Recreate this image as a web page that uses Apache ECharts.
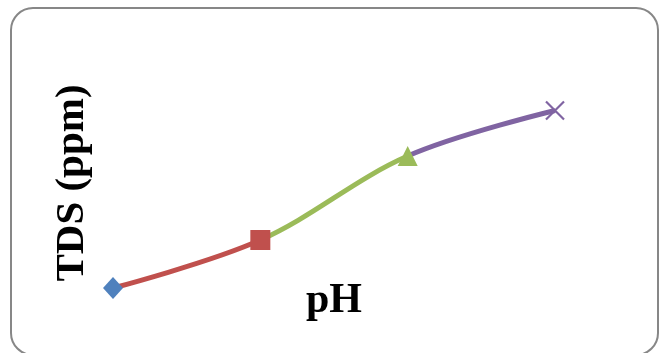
<!DOCTYPE html>
<html>
<head>
<meta charset="utf-8">
<script src="https://cdn.jsdelivr.net/npm/echarts@6/dist/echarts.min.js"></script>
<style>
  html, body { margin: 0; padding: 0; background: #ffffff; }
  #chart { width: 661px; height: 353px; }
</style>
</head>
<body>
<div id="chart"></div>
<script>
// Sample positions along the pH axis and the measured TDS (ppm)
const samplePos = [1, 2, 3, 4];
const tdsValues = [200, 240, 310, 348];
// One marker shape and colour per sample
const markerShapes = ['diamond', 'rect', 'triangle', 'path://M0,0L10,10M10,0L0,10'];
const markerColors = ['#4F81BD', '#C0504D', '#9BBB59', '#8064A2'];
// Axis titles
const xTitle = 'pH';
const yTitle = 'TDS (ppm)';

const points = samplePos.map((x, i) => [x, tdsValues[i]]);
const titleFont = '"Liberation Serif", "Times New Roman", serif';

const markerData = points.map((p, i) => {
  const isCross = markerShapes[i].startsWith('path://');
  return {
    value: p,
    symbol: markerShapes[i],
    symbolSize: isCross ? [18, 18] : (i === 2 ? [20, 20] : (i === 0 ? [20, 22] : [20, 20])),
    itemStyle: isCross
      ? { color: 'transparent', borderColor: markerColors[i], borderWidth: 2.2, opacity: 1 }
      : { color: markerColors[i], borderWidth: 0, opacity: 1 }
  };
});

const chart = echarts.init(document.getElementById('chart'), null, { renderer: 'canvas' });
chart.setOption({
  animation: false,
  backgroundColor: '#ffffff',
  grid: { left: 113, right: 106, top: 110.5, bottom: 65, containLabel: false },
  xAxis: {
    type: 'value', min: 1, max: 4,
    axisLine: { show: false }, axisTick: { show: false },
    axisLabel: { show: false }, splitLine: { show: false }
  },
  yAxis: {
    type: 'value', min: 200, max: 348,
    axisLine: { show: false }, axisTick: { show: false },
    axisLabel: { show: false }, splitLine: { show: false }
  },
  // Each segment takes the colour of the sample it leads to
  visualMap: {
    show: false,
    type: 'piecewise',
    dimension: 0,
    seriesIndex: 0,
    pieces: [
      { lt: samplePos[1], color: markerColors[1] },
      { gte: samplePos[1], lt: samplePos[2], color: markerColors[2] },
      { gte: samplePos[2], color: markerColors[3] }
    ]
  },
  series: [
    {
      type: 'line',
      data: points,
      smooth: 0.35,
      symbol: 'none',
      lineStyle: { width: 5 },
      z: 2
    },
    {
      type: 'scatter',
      data: markerData,
      itemStyle: { opacity: 1 },
      z: 3
    }
  ],
  graphic: [
    {
      type: 'rect',
      shape: { x: 11, y: 8, width: 647, height: 347, r: 22 },
      style: { fill: 'none', stroke: '#878787', lineWidth: 2 },
      silent: true
    },
    {
      type: 'text',
      x: 72, y: 183,
      rotation: Math.PI / 2,
      style: {
        text: yTitle,
        font: 'bold 41px ' + titleFont,
        fill: '#000000',
        align: 'center',
        verticalAlign: 'middle'
      }
    },
    {
      type: 'text',
      x: 334, y: 301,
      style: {
        text: xTitle,
        font: 'bold 42px ' + titleFont,
        fill: '#000000',
        align: 'center',
        verticalAlign: 'middle'
      }
    }
  ]
});
</script>
</body>
</html>
